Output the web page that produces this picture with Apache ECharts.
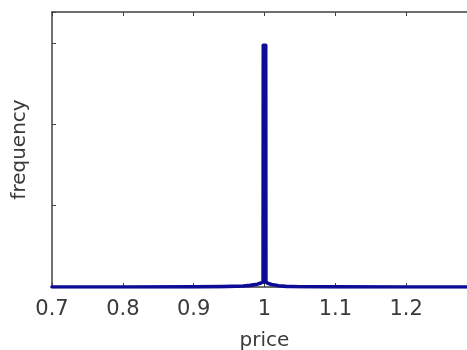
<!DOCTYPE html>
<html>
<head>
<meta charset="utf-8">
<script src="https://cdn.jsdelivr.net/npm/echarts@6/dist/echarts.min.js"></script>
<style>html,body{margin:0;padding:0;background:#fff}#c{width:467px;height:350px}</style>
</head>
<body>
<div id="c"></div>
<script>
const prices = [0.70, 0.80, 0.90, 0.94, 0.97, 0.98, 0.99, 0.995, 0.998, 0.9983, 1.0017, 1.002, 1.005, 1.01, 1.02, 1.03, 1.05, 1.10, 1.20, 1.30];
const frequencies = [0.0, 0.0, 0.002, 0.005, 0.012, 0.02, 0.035, 0.05, 0.06, 2.97, 2.97, 0.06, 0.045, 0.03, 0.016, 0.008, 0.003, 0.001, 0.0, 0.0];
const xTicks = [0.7, 0.8, 0.9, 1.0, 1.1, 1.2, 1.3];
const xLabel = 'price';
const yLabel = 'frequency';

const font = 'DejaVu Sans';
const axisColor = '#404040';
const chart = echarts.init(document.getElementById('c'), null, {renderer: 'canvas'});
const xMin = xTicks[0], xMax = xTicks[xTicks.length - 1];
const xCommon = {
  type: 'value', min: xMin, max: xMax, interval: 0.1,
  axisLine: {show: true, onZero: false, lineStyle: {color: axisColor, width: 1.5}},
  axisTick: {show: true, inside: true, length: 4, lineStyle: {color: axisColor}},
  splitLine: {show: false}
};
const yCommon = {
  type: 'value', min: 0, max: 3.38, interval: 1,
  axisLine: {show: true, onZero: false, lineStyle: {color: axisColor, width: 1.5}},
  axisTick: {show: true, inside: true, length: 4, lineStyle: {color: axisColor}},
  axisLabel: {show: false},
  splitLine: {show: false}
};
chart.setOption({
  animation: false,
  backgroundColor: '#fff',
  grid: {left: 52, top: 12, right: -10, bottom: 63, containLabel: false, outerBoundsMode: 'none'},
  xAxis: [
    Object.assign({}, xCommon, {
      position: 'bottom',
      name: xLabel, nameLocation: 'middle', nameGap: 44,
      nameTextStyle: {fontFamily: font, fontSize: 20, color: '#3a3a3a'},
      axisLabel: {show: true, showMaxLabel: false, margin: 12, fontFamily: font, fontSize: 21, color: '#3a3a3a',
        formatter: v => String(+v.toFixed(1))}
    }),
    Object.assign({}, xCommon, {position: 'top', axisLabel: {show: false}})
  ],
  yAxis: [
    Object.assign({}, yCommon, {
      position: 'left',
      name: yLabel, nameLocation: 'middle', nameGap: 22, nameRotate: 90,
      nameTextStyle: {fontFamily: font, fontSize: 20, color: '#3a3a3a'}
    }),
    Object.assign({}, yCommon, {position: 'right'})
  ],
  series: [{
    type: 'line',
    xAxisIndex: 0, yAxisIndex: 0,
    data: prices.map((p, i) => [p, frequencies[i]]),
    showSymbol: false,
    symbol: 'none',
    lineStyle: {color: '#0c0c96', width: 3.6, cap: 'round', join: 'round'},
    z: 3
  }]
});
</script>
</body>
</html>
